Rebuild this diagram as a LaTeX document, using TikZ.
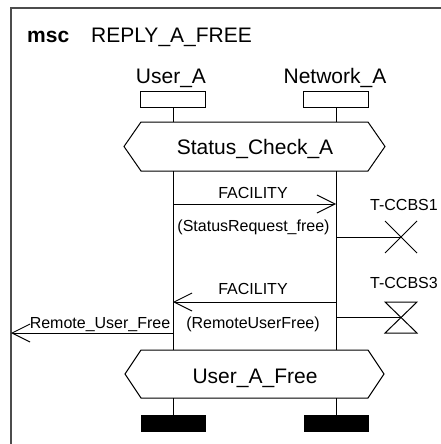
\documentclass[tikz,border=0pt]{standalone}
\usepackage{fontspec}
\setmainfont{Liberation Sans}
\usetikzlibrary{arrows.meta}
\begin{document}
\begin{tikzpicture}[x=1pt,y=-1pt,
  big/.style={font=\fontsize{21}{25}\selectfont, inner sep=0pt, anchor=base},
  small/.style={font=\fontsize{16}{19}\selectfont, inner sep=0pt, anchor=base},
  head/.style={draw, line width=1pt, minimum width=65pt, minimum height=16pt, inner sep=0pt},
  stopbar/.style={fill=black, minimum width=65pt, minimum height=17pt, inner sep=0pt},
  life/.style={line width=1pt},
  msg/.style={line width=1pt, -{Straight Barb[length=18pt,width=18pt,line width=1pt]}},
  cond/.style={line width=1pt, line join=miter}]
\useasboundingbox (0,0) rectangle (441,444);
% frame
\coordinate (frameTL) at (11,8);
\coordinate (frameTR) at (442,8);
\coordinate (frameBL) at (11,445);
\draw[line width=1.2pt, black!70] (frameTR) -- (frameTL) -- (frameBL);
\node[big, anchor=base west, font=\fontsize{21}{25}\selectfont\bfseries] (msc) at (27,42) {msc};
\node[big, anchor=base west] (title) at (91,42) {REPLY\_A\_FREE};
% instance heads
\node[big] (ua) at (171,83) {User\_A};
\node[big] (na) at (335,83) {Network\_A};
\node[head] (hA) at (173,99) {};
\node[head] (hN) at (336,99) {};
% condition 1
\draw[cond] (124,146.5) -- (141,122) -- (368,122) -- (385,146.5) -- (368,171) -- (141,171) -- cycle;
\coordinate (c1tA) at (173,122); \coordinate (c1bA) at (173,171);
\coordinate (c1tN) at (336,122); \coordinate (c1bN) at (336,171);
\node[big] (c1) at (255,154) {Status\_Check\_A};
% condition 2
\draw[cond] (125,374) -- (141,350) -- (368,350) -- (384,374) -- (368,398) -- (141,398) -- cycle;
\coordinate (c2tA) at (173,350); \coordinate (c2bA) at (173,398);
\coordinate (c2tN) at (336,350); \coordinate (c2bN) at (336,398);
\node[big] (c2) at (255,383) {User\_A\_Free};
% stop bars
\node[stopbar] (sA) at (173,423.5) {};
\node[stopbar] (sN) at (336,423.5) {};
% lifelines
\draw[life] (hA.south) -- (c1tA);
\draw[life] (hN.south) -- (c1tN);
\draw[life] (c1bA) -- (c2tA);
\draw[life] (c1bN) -- (c2tN);
\draw[life] (c2bA) -- (sA.north);
\draw[life] (c2bN) -- (sN.north);
% message 1
\coordinate (m1a) at (173,204); \coordinate (m1b) at (336,204);
\draw[msg] (m1a) -- (m1b);
\node[small] (m1l) at (253,198) {FACILITY};
\node[small] (m1p) at (253.5,231) {(StatusRequest\_free)};
% message 2
\coordinate (m2a) at (336,302); \coordinate (m2b) at (173,302);
\draw[msg] (m2a) -- (m2b);
\node[small] (m2l) at (253,294) {FACILITY};
\node[small] (m2p) at (253,328) {(RemoteUserFree)};
% message 3
\coordinate (m3a) at (173,333); \coordinate (m3b) at (11,333);
\draw[msg] (m3a) -- (m3b);
\node[small] (m3l) at (100,328) {Remote\_User\_Free};
% timer T-CCBS1 (stop)
\coordinate (t1s) at (336,237); \coordinate (t1) at (401,237);
\draw[life] (t1s) -- (t1);
\draw[line width=1pt] (385,221) -- (417,253) (385,253) -- (417,221);
\node[small] (t1l) at (404,210) {T-CCBS1};
% timer T-CCBS3 (start)
\coordinate (t3s) at (336,317); \coordinate (t3) at (401,317);
\draw[life] (t3s) -- (t3);
\draw[line width=1pt, line join=miter] (385,302) -- (417,302) -- (385,333) -- (417,333) -- cycle;
\node[small] (t3l) at (404,288) {T-CCBS3};
\end{tikzpicture}
\end{document}
